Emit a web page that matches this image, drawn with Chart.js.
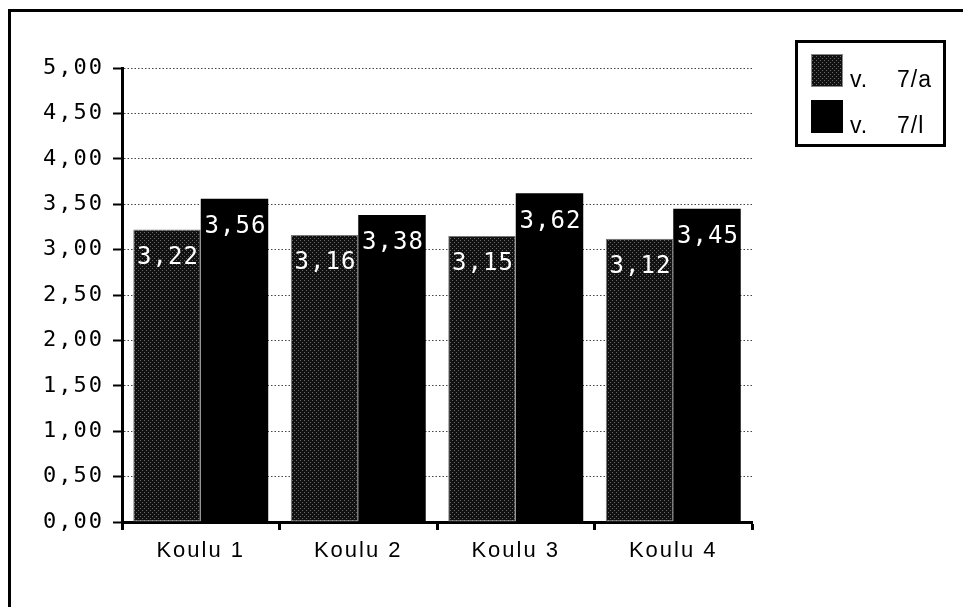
<!DOCTYPE html>
<html>
<head>
<meta charset="utf-8">
<script src="https://cdn.jsdelivr.net/npm/chart.js@4"></script>
<style>
html, body { margin: 0; padding: 0; background: #fff; }
#wrap { position: relative; width: 963px; height: 607px; }
#frame { position: absolute; left: 8px; top: 9px; right: 0; bottom: 0;
  border-top: 3px solid #000; border-left: 3px solid #000; pointer-events: none; }
</style>
</head>
<body>
<div id="wrap">
  <canvas id="barChart" width="963" height="607"></canvas>
  <div id="frame"></div>
</div>
<script>
var schools = ['Koulu 1', 'Koulu 2', 'Koulu 3', 'Koulu 4'];
var grade7a = [3.22, 3.16, 3.15, 3.12];
var grade7l = [3.56, 3.38, 3.62, 3.45];
var seriesNames = ['v. 7/a', 'v. 7/l'];

function fmt(v) { return v.toFixed(2).replace('.', ','); }

// speckled fill for the first series
var pc = document.createElement('canvas');
pc.width = 4; pc.height = 4;
var p = pc.getContext('2d');
p.fillStyle = '#111';
p.fillRect(0, 0, 4, 4);
p.fillStyle = '#6a6a6a';
p.fillRect(0, 0, 1, 1);
p.fillRect(2, 2, 1, 1);
var ctxB = document.getElementById('barChart').getContext('2d');
var speckle = ctxB.createPattern(pc, 'repeat');

var spacing = {
  id: 'spacing',
  beforeDraw: function(chart) { chart.ctx.letterSpacing = '2px'; }
};

var valueLabels = {
  id: 'valueLabels',
  afterDatasetsDraw: function(chart) {
    var ctx = chart.ctx;
    ctx.save();
    ctx.letterSpacing = '1px';
    ctx.font = '24px "DejaVu Sans Mono"';
    ctx.fillStyle = '#fff';
    ctx.textAlign = 'center';
    ctx.textBaseline = 'middle';
    chart.data.datasets.forEach(function(ds, i) {
      chart.getDatasetMeta(i).data.forEach(function(bar, j) {
        ctx.fillText(fmt(ds.data[j]), bar.x + 1, bar.y + 28);
      });
    });
    ctx.restore();
  }
};

var boxLegend = {
  id: 'boxLegend',
  afterDraw: function(chart) {
    var ctx = chart.ctx;
    ctx.save();
    ctx.letterSpacing = '1px';
    ctx.lineWidth = 3;
    ctx.strokeStyle = '#000';
    ctx.strokeRect(796.5, 41.5, 148, 104);
    ctx.font = '23px "Liberation Sans"';
    ctx.textBaseline = 'alphabetic';
    ctx.textAlign = 'left';
    chart.data.datasets.forEach(function(ds, i) {
      var top = 54 + i * 46;
      ctx.fillStyle = ds.backgroundColor;
      ctx.fillRect(811, top, 32, 33);
      if (i === 0) {
        ctx.strokeStyle = '#888';
        ctx.lineWidth = 1;
        ctx.strokeRect(811.5, top + 0.5, 31, 32);
      }
      var parts = ds.label.split(' ');
      ctx.fillStyle = '#000';
      ctx.fillText(parts[0], 850, top + 33);
      ctx.fillText(parts[1], 897, top + 33);
    });
    ctx.restore();
  }
};

new Chart(ctxB, {
  type: 'bar',
  data: {
    labels: schools,
    datasets: [{
      label: seriesNames[0],
      data: grade7a,
      backgroundColor: speckle,
      borderColor: '#777',
      borderWidth: 1,
      borderSkipped: false,
      categoryPercentage: 0.857,
      barPercentage: 1
    }, {
      label: seriesNames[1],
      data: grade7l,
      backgroundColor: '#000',
      categoryPercentage: 0.857,
      barPercentage: 1
    }]
  },
  options: {
    responsive: false,
    animation: false,
    layout: { padding: { left: 0, top: 68, right: 211, bottom: 0 } },
    plugins: { legend: { display: false }, tooltip: { enabled: false } },
    scales: {
      x: {
        afterFit: function(s) { s.height = 85; },
        grid: { drawOnChartArea: false, tickLength: 8, tickWidth: 3, tickColor: '#000', offset: true },
        border: { color: '#000', width: 3 },
        ticks: { color: '#000', padding: 8, font: { family: 'Liberation Sans', size: 22 } }
      },
      y: {
        min: 0,
        max: 5,
        afterFit: function(s) { s.width = 122; },
        grid: { color: '#444', lineWidth: 1, tickLength: 9, tickWidth: 2, tickColor: '#000', tickBorderDash: [] },
        border: { color: '#000', width: 3, dash: [1.5, 2] },
        ticks: {
          stepSize: 0.5,
          color: '#000',
          padding: 9,
          font: { family: 'DejaVu Sans Mono', size: 22 },
          callback: function(v) { return fmt(v); }
        }
      }
    }
  },
  plugins: [spacing, valueLabels, boxLegend]
});
</script>
</body>
</html>
